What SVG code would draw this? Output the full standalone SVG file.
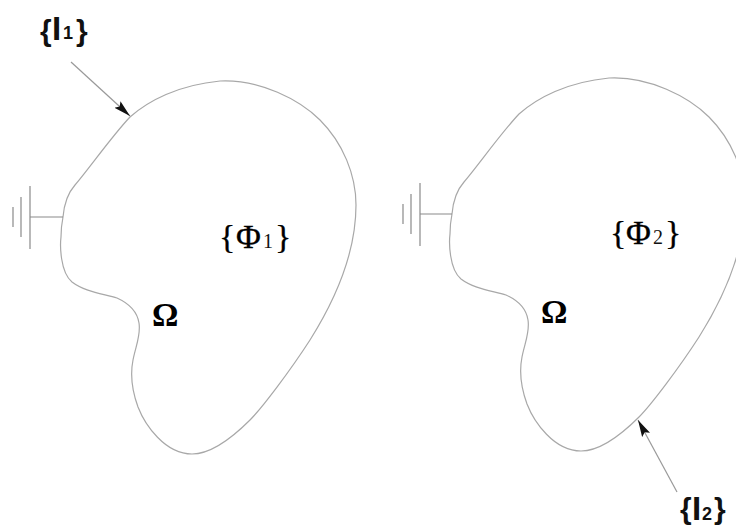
<svg xmlns="http://www.w3.org/2000/svg" width="736" height="526" viewBox="0 0 736 526">
<defs>
<marker id="a" markerWidth="18" markerHeight="10" refX="17" refY="5" orient="auto" markerUnits="userSpaceOnUse"><path d="M0 0.5L17 5L0 9.5L3 5Z" fill="#111"/></marker>
<path id="blob" d="M63 217C64 205 67 194 75 185C88 170 112 136 130 117C148 101 178 85 220 81C260 79 300 100 320 120C343 143 356 175 356 205C356 255 332 305 310 340C290 371 262 408 250 420C232 438 212 454 192 454C165 454 145 425 138 407C130 385 131 370 133 360C136 345 141 335 139 323C137 310 128 303 117 298C105 294 85 292 72 282C60 272 60 245 61 237C61 228 62 222 63 217Z"/>
</defs>
<style>
.o{fill:none;stroke:#a8a8a8;stroke-width:1.2}
.g{fill:none;stroke:#8a8a8a;stroke-width:1.2}
.t{fill:#000;stroke:#000;stroke-width:.3;font-family:"Liberation Serif",serif;font-size:34px}
.u{fill:#111;font-family:"Liberation Serif",serif;font-size:20px}
.w{fill:#000;font-family:"Liberation Serif",serif;font-size:33px;font-weight:bold}
.s{fill:#111;font-family:"Liberation Sans",sans-serif;font-size:30px;font-weight:bold}
.i{font-size:33px}
.n{font-size:18px}
.l{fill:none;stroke:#999;stroke-width:1.2}
</style>
<g id="connectors">
<path class="l" d="M71 62L130 116" marker-end="url(#a)"/>
<path class="l" d="M677 492L638 420" marker-end="url(#a)"/>
</g>
<g id="node-left">
<use href="#blob" class="o"/>
<path class="g" d="M63 217H30M30 186V249M21 197V237M13 207V227"/>
<text class="t" x="219" y="248">{</text><text class="t" x="236" y="248">Φ</text><text class="u" x="263" y="248">1</text><text class="t" x="275" y="248">}</text>
<text class="w" x="152" y="326">Ω</text>
<text class="s" x="40" y="41">{</text><text class="s i" x="52" y="40">I</text><text class="s n" x="63" y="39">1</text><text class="s" x="76" y="41">}</text>
</g>
<g id="node-right">
<use href="#blob" class="o" transform="translate(389 -3)"/>
<path class="g" d="M452 214H420M420 183V246M411 194V234M403 204V224"/>
<text class="t" x="610" y="244">{</text><text class="t" x="626" y="244">Φ</text><text class="u" x="653" y="244">2</text><text class="t" x="665" y="244">}</text>
<text class="w" x="541" y="323">Ω</text>
<text class="s" x="680" y="519">{</text><text class="s i" x="692" y="520">I</text><text class="s n" x="702" y="520">2</text><text class="s" x="714" y="519">}</text>
</g>
</svg>
